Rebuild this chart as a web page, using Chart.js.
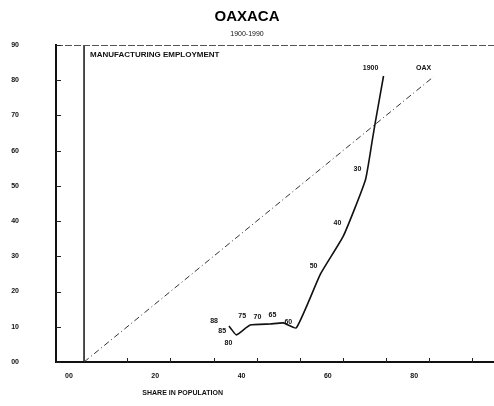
<!DOCTYPE html>
<html>
<head>
<meta charset="utf-8">
<script src="https://cdn.jsdelivr.net/npm/chart.js@4.4.1/dist/chart.umd.min.js"></script>
<style>
  html, body { margin: 0; padding: 0; background: #fff; }
  #wrap { width: 494px; height: 406px; }
</style>
</head>
<body>
<div id="wrap"><canvas id="oaxacaChart"></canvas></div>
<script>
    // Дані: частка в населенні (x) та в зайнятості у виробництві (y)
    const yearLabels = ['1900', '', '', '30', '40', '50', '60', '65', '70', '75', '80', '85', '88'];
    const sharePopulation = [69.4, 67.5, 66.8, 65.2, 60.1, 54.8, 49.2, 46.2, 43.2, 38.5, 35.3, 34.1, 33.6];
    const shareEmployment = [81.2, 68.1, 63.0, 51.7, 35.8, 25.0, 9.7, 11.1, 10.8, 10.5, 7.7, 9.4, 10.2];

    // Лінія рівності (OAX)
    const diagX = [0, 81];
    const diagY = [0, 81];
    const diagLabel = 'OAX';

    // Вертикальна лінія на нулі
    const zeroLineX = [0, 0];
    const zeroLineY = [0, 90];

    // Підписи осей
    const xTickValues = [0, 20, 40, 60, 80];
    const xTickLabels = ['00', '20', '40', '60', '80'];
    const xMarkValues = [10, 20, 30, 40, 50, 60, 70, 80, 90];
    const yTickValues = [0, 10, 20, 30, 40, 50, 60, 70, 80, 90];
    const yTickLabels = ['00', '10', '20', '30', '40', '50', '60', '70', '80', '90'];

    // Зсув підписів точок (px)
    const labelShift = [[-13, -8], null, null, [-8, -11], [-6, -13], [-7, -8], [-8, -6],
        [-11, -8], [-13, -7], [-8, -9], [-8, 8], [-9, 2], [-15, -5]];
    const X_LABEL_SHIFT = 3.5;

    const FONT = 'Arial, "Liberation Sans", sans-serif';

    function toPoints(xs, ys) {
        return xs.map(function (x, i) { return { x: x, y: ys[i] }; });
    }

    // Додаткові написи, мітки та рамка
    const extrasPlugin = {
        id: 'extras',
        afterDatasetsDraw: function (chart) {
            const ctx = chart.ctx;
            const area = chart.chartArea;
            const xs = chart.scales.x;
            const ys = chart.scales.y;
            ctx.save();

            // верхня рамка (пунктир)
            ctx.strokeStyle = '#555';
            ctx.lineWidth = 1;
            ctx.setLineDash([7, 2]);
            ctx.beginPath();
            ctx.moveTo(area.left, area.top + 0.5);
            ctx.lineTo(area.right, area.top + 0.5);
            ctx.stroke();
            ctx.setLineDash([]);

            // мітки осі y всередині
            ctx.strokeStyle = '#222';
            yTickValues.forEach(function (v) {
                const py = Math.round(ys.getPixelForValue(v)) + 0.5;
                ctx.beginPath();
                ctx.moveTo(area.left, py);
                ctx.lineTo(area.left + 5, py);
                ctx.stroke();
            });
            // мітки осі x
            xMarkValues.forEach(function (v) {
                const px = Math.round(xs.getPixelForValue(v)) + 0.5;
                ctx.beginPath();
                ctx.moveTo(px, area.bottom + 1);
                ctx.lineTo(px, area.bottom - 4);
                ctx.stroke();
            });

            // підписи років
            ctx.fillStyle = '#111';
            ctx.font = 'bold 7px ' + FONT;
            ctx.textAlign = 'center';
            ctx.textBaseline = 'middle';
            const meta = chart.getDatasetMeta(0);
            meta.data.forEach(function (pt, i) {
                if (!yearLabels[i] || !labelShift[i]) return;
                ctx.fillText(yearLabels[i], pt.x + labelShift[i][0], pt.y + labelShift[i][1]);
            });
            const dmeta = chart.getDatasetMeta(1);
            const end = dmeta.data[dmeta.data.length - 1];
            ctx.fillText(diagLabel, end.x - 10, end.y - 9);

            // назви осей
            ctx.textAlign = 'left';
            ctx.font = 'bold 8px ' + FONT;
            ctx.fillText('MANUFACTURING EMPLOYMENT', xs.getPixelForValue(1.4), area.top + 10);
            ctx.font = 'bold 7px ' + FONT;
            ctx.fillText('SHARE IN POPULATION', xs.getPixelForValue(13.5), area.bottom + 31);
            ctx.restore();
        }
    };

    const oaxacaConfig = {
        type: 'scatter',
        data: {
            datasets: [{
                label: 'Oaxaca',
                data: toPoints(sharePopulation, shareEmployment),
                showLine: true,
                borderColor: '#111',
                borderWidth: 1.6,
                pointRadius: 0,
                tension: 0.15
            }, {
                label: diagLabel,
                data: toPoints(diagX, diagY),
                showLine: true,
                borderColor: '#333',
                borderWidth: 1,
                borderDash: [6, 3, 1, 3],
                pointRadius: 0
            }, {
                label: 'zero',
                data: toPoints(zeroLineX, zeroLineY),
                showLine: true,
                borderColor: '#111',
                borderWidth: 1.5,
                pointRadius: 0
            }]
        },
        options: {
            responsive: true,
            maintainAspectRatio: false,
            animation: false,
            layout: { padding: { left: 0, right: 0, top: 0, bottom: 0 } },
            plugins: {
                legend: { display: false },
                tooltip: { enabled: false },
                title: {
                    display: true,
                    text: 'OAXACA',
                    color: '#000',
                    font: { family: FONT, size: 15, weight: 'bold', lineHeight: 1.2 },
                    padding: { top: 8, bottom: 2 }
                },
                subtitle: {
                    display: true,
                    text: '1900-1990',
                    color: '#111',
                    font: { family: FONT, size: 7, lineHeight: 1.2 },
                    padding: { top: 2, bottom: 6.6 }
                }
            },
            scales: {
                x: {
                    type: 'linear',
                    min: -6.5,
                    max: 95,
                    grid: { display: false, drawTicks: false },
                    border: { display: true, color: '#111', width: 2 },
                    afterBuildTicks: function (scale) {
                        scale.ticks = xTickValues.map(function (v) { return { value: v - X_LABEL_SHIFT }; });
                    },
                    afterFit: function (scale) { scale.height = 44; },
                    ticks: {
                        padding: 10,
                        color: '#111',
                        font: { family: FONT, size: 7, weight: 'bold' },
                        maxRotation: 0,
                        autoSkip: false,
                        callback: function (value, index) { return xTickLabels[index]; }
                    }
                },
                y: {
                    type: 'linear',
                    min: 0,
                    max: 90,
                    grid: { display: false, drawTicks: false },
                    border: { display: true, color: '#111', width: 2 },
                    afterBuildTicks: function (scale) {
                        scale.ticks = yTickValues.map(function (v) { return { value: v }; });
                    },
                    afterFit: function (scale) { scale.width = 56; },
                    ticks: {
                        padding: 37,
                        color: '#111',
                        font: { family: FONT, size: 7, weight: 'bold' },
                        autoSkip: false,
                        callback: function (value, index) { return yTickLabels[index]; }
                    }
                }
            }
        },
        plugins: [extrasPlugin]
    };

    const ctx = document.getElementById('oaxacaChart').getContext('2d');
    new Chart(ctx, oaxacaConfig);
</script>
</body>
</html>
